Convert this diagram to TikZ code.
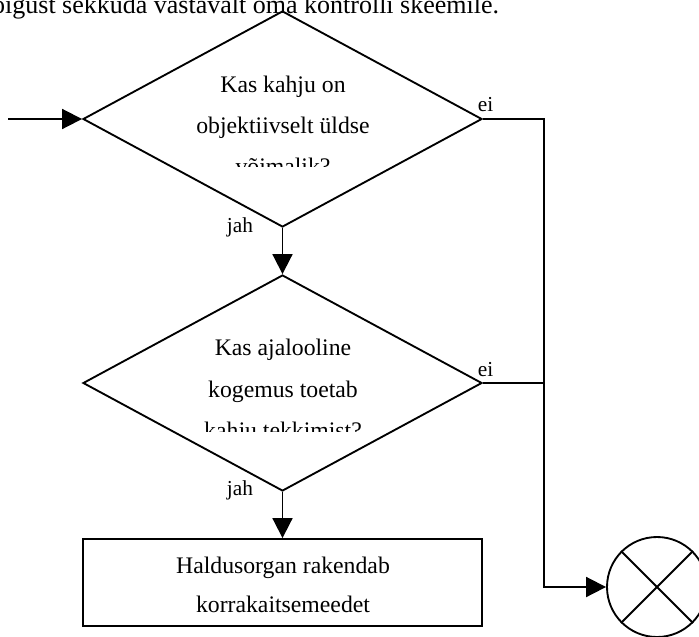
\documentclass[tikz,border=0pt]{standalone}
\usepackage{fontspec}
\setmainfont{Liberation Serif}
\usetikzlibrary{shapes.geometric,arrows.meta}
\begin{document}
\begin{tikzpicture}[x=0.75pt,y=-0.75pt,
  line width=1.4pt,
  flow/.style={-{Triangle[length=15pt,width=15pt]}},
  dec/.style={draw, diamond, minimum width=299.25pt, minimum height=162pt, inner sep=0pt},
  box/.style={draw, rectangle, minimum width=299.25pt, minimum height=65.25pt, inner sep=0pt},
  term/.style={draw, circle, minimum size=75pt, inner sep=0pt},
  qtext/.style={font=\fontsize{17.8}{30.75}\selectfont, anchor=base, inner sep=0pt},
  lbl/.style={font=\fontsize{16}{19}\selectfont, anchor=base west, inner sep=0pt},
]
\clip (0,0) rectangle (699,636);
\node[anchor=base east, inner sep=0pt, font=\fontsize{19.5}{22}\selectfont] (head) at (500,13) {õigust sekkuda vastavalt oma kontrolli skeemile.};

\node[dec] (d1) at (282.5,119) {};
\node[dec] (d2) at (282.5,383) {};
\node[box] (act) at (282.5,582.5) {};
\node[term] (end) at (657,587) {};
\draw (end.north west) -- (end.south east);
\draw (end.north east) -- (end.south west);

\begin{scope}
\clip (140,60) rectangle (425,166);
\node[qtext] (d1a) at (283,92) {Kas kahju on};
\node[qtext] (d1b) at (283,133) {objektiivselt üldse};
\node[qtext] (d1c) at (283,174) {võimalik?};
\end{scope}
\begin{scope}
\clip (140,320) rectangle (425,431);
\node[qtext] (d2a) at (283,355) {Kas ajalooline};
\node[qtext] (d2b) at (283,397) {kogemus toetab};
\node[qtext] (d2c) at (283,438) {kahju tekkimist?};
\end{scope}
\node[qtext] (acta) at (283,573) {Haldusorgan rakendab};
\node[qtext] (actb) at (283,612) {korrakaitsemeedet};

\node[lbl] (ei1) at (477,111) {ei};
\node[lbl] (ei2) at (477,376) {ei};
\node[lbl] (jah1) at (226,232) {jah};
\node[lbl] (jah2) at (226,495) {jah};

\coordinate (in) at (8,119);
\coordinate (j1) at (544,119);
\coordinate (j2) at (544,383);
\coordinate (j3) at (544,587);
\draw[flow] (in) -- (d1.west);
\draw[flow] (d1.south) -- (d2.north);
\draw[flow] (d2.south) -- (act.north);
\draw[flow] (d1.east) -- (j1) -- (j3) -- (end.west);
\draw (d2.east) -- (j2);
\end{tikzpicture}
\end{document}
